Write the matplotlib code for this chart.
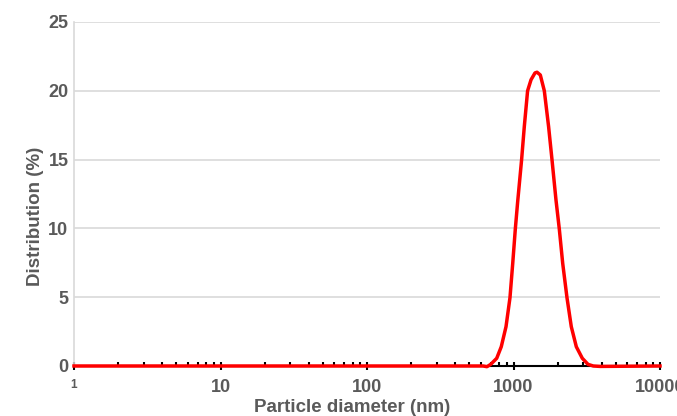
import matplotlib
matplotlib.use("Agg")
import matplotlib.pyplot as plt
from matplotlib.ticker import LogLocator, NullFormatter, FixedLocator, FixedFormatter

# Data (particle diameter in nm, distribution in %)
diameter_nm = [1, 100, 500, 620, 659, 699, 768, 825, 889, 946, 988, 1029, 1068,
               1136, 1185, 1248, 1317, 1402, 1447, 1524, 1623, 1736, 1831,
               1950, 2054, 2167, 2318, 2480, 2684, 2949, 3226, 3505,
               3900, 10000]
distribution_pct = [0, 0, 0, 0, -0.05, 0.12, 0.56, 1.40, 2.86, 4.96, 7.46, 9.96, 11.95,
                    15.0, 17.4, 20.0, 20.8, 21.3, 21.35, 21.15, 20.0, 17.4, 15.0,
                    12.06, 9.96, 7.46, 4.96, 2.86, 1.40, 0.56, 0.12, 0.0,
                    -0.03, 0]

y_ticks = [0, 5, 10, 15, 20, 25]
x_ticks = [1, 10, 100, 1000, 10000]
x_tick_labels = ["1", "10", "100", "1000", "10000"]

plt.rcParams['font.family'] = ['Liberation Sans', 'DejaVu Sans']
grey = "#5a5a5a"

fig = plt.figure(figsize=(6.77, 4.16), dpi=100)
ax = fig.add_axes([74/677, 1-366/416, (660-74)/677, (366-22)/416])

ax.set_xscale("log")
ax.set_xlim(1, 10000)
ax.set_ylim(0, 25)

# grid
ax.set_yticks(y_ticks)
ax.yaxis.grid(True, color="#d9d9d9", linewidth=1.2)
ax.set_axisbelow(True)
ax.tick_params(axis="y", length=0, pad=4, labelsize=13, labelcolor=grey)
for lbl in ax.get_yticklabels():
    lbl.set_fontweight("bold")

for s in ["top", "right"]:
    ax.spines[s].set_visible(False)
ax.spines["left"].set_color("#d9d9d9")
ax.spines["left"].set_linewidth(1.2)
ax.spines["bottom"].set_color("black")
ax.spines["bottom"].set_linewidth(1.5)

ax.xaxis.set_major_locator(FixedLocator(x_ticks))
ax.xaxis.set_major_formatter(FixedFormatter(x_tick_labels))
ax.xaxis.set_minor_locator(LogLocator(base=10, subs=range(2, 10)))
ax.xaxis.set_minor_formatter(NullFormatter())
ax.tick_params(axis="x", which="major", direction="inout", length=6, width=1.5,
               color="black", pad=6, labelsize=13, labelcolor=grey)
ax.tick_params(axis="x", which="minor", direction="in", length=3, width=1.5,
               color="black")
for lbl in ax.get_xticklabels():
    lbl.set_fontweight("bold")
ax.get_xticklabels()[0].set_fontsize(8.5)

ax.plot(diameter_nm, distribution_pct, color="#ff0000", linewidth=2.5,
        clip_on=False, zorder=5, solid_joinstyle="round")

ax.set_xlabel("Particle diameter (nm)", fontsize=13.5, fontweight="bold", color=grey)
ax.set_ylabel("Distribution (%)", fontsize=13.5, fontweight="bold", color=grey)
ax.xaxis.set_label_coords((352-74)/586, -0.095)
ax.yaxis.set_label_coords(-0.052, 0.436)

fig.savefig("out.png", dpi=100)
